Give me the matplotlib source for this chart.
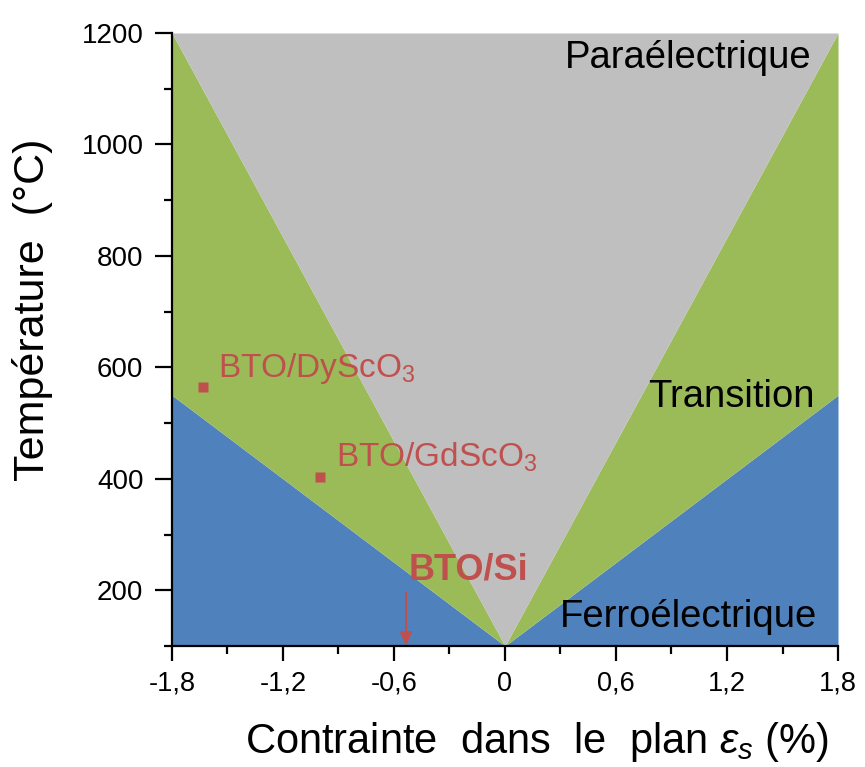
import numpy as np
import matplotlib.pyplot as plt
from matplotlib.ticker import FixedLocator, MultipleLocator

plt.rcParams['font.family'] = ['Liberation Sans', 'DejaVu Sans']
plt.rcParams['mathtext.fontset'] = 'custom'
plt.rcParams['mathtext.rm'] = 'Liberation Sans'
plt.rcParams['mathtext.it'] = 'Liberation Sans:italic'
plt.rcParams['mathtext.bf'] = 'Liberation Sans:bold'
plt.rcParams['mathtext.default'] = 'regular'

# phase boundaries (strain %, temperature C)
strain = [-1.8, 0.0, 1.8]
ferro_limit = [550, 100, 550]
para_limit = [1200, 100, 1200]
tMin = 100
tMax = 1200

# substrates
sub_names = ['BTO/DyScO$_3$', 'BTO/GdScO$_3$']
sub_strain = [-1.63, -1.0]
sub_temp = [565, 404]
si_strain = -0.535

xticks = [-1.8, -1.2, -0.6, 0, 0.6, 1.2, 1.8]
xlabels = ['-1,8', '-1,2', '-0,6', '0', '0,6', '1,2', '1,8']
yticks = [200, 400, 600, 800, 1000, 1200]

blue = '#4F81BD'
green = '#9BBB59'
grey = '#BFBFBF'
red = '#C0504D'

fig = plt.figure(figsize=(8.65, 7.67), dpi=100)
ax = fig.add_axes([0.1988, 0.1578, 0.770, 0.7992])

ax.fill_between(strain, tMin, ferro_limit, color=blue, lw=0)
ax.fill_between(strain, ferro_limit, para_limit, color=green, lw=0)
ax.fill_between(strain, para_limit, tMax, color=grey, lw=0)

ax.plot(sub_strain, sub_temp, 's', color=red, ms=6.5, mec='none')
ax.text(-1.551, 583, sub_names[0], color=red, fontsize=24, ha='left', va='baseline')
ax.text(-0.914, 421, sub_names[1], color=red, fontsize=24, ha='left', va='baseline')
ax.text(-0.195, 219, 'BTO/Si', color=red, fontsize=26, fontweight='bold', ha='center', va='baseline')
ax.annotate('', xy=(si_strain, tMin), xytext=(si_strain, 196),
            arrowprops=dict(arrowstyle='-|>,head_width=0.35,head_length=0.8', color=red, lw=1.5,
                            shrinkA=0, shrinkB=0))

ax.text(1.659, 1138, 'Paraélectrique', fontsize=27.5, ha='right', va='baseline')
ax.text(1.676, 529, 'Transition', fontsize=27.5, ha='right', va='baseline')
ax.text(1.686, 134, 'Ferroélectrique', fontsize=27.5, ha='right', va='baseline')

ax.set_xlim(-1.8, 1.8)
ax.set_ylim(tMin, tMax)
ax.xaxis.set_major_locator(FixedLocator(xticks))
ax.set_xticklabels(xlabels)
ax.xaxis.set_minor_locator(MultipleLocator(0.3))
ax.yaxis.set_major_locator(FixedLocator(yticks))
ax.yaxis.set_minor_locator(MultipleLocator(100))

for s in ['top', 'right']:
    ax.spines[s].set_visible(False)
for s in ['left', 'bottom']:
    ax.spines[s].set_linewidth(1.6)
ax.tick_params(which='major', direction='out', length=11, width=1.6, pad=6)
ax.tick_params(which='minor', direction='out', length=5.5, width=1.6)
ax.tick_params(axis='x', which='major', labelsize=19.5, pad=7)
ax.tick_params(axis='y', which='major', length=12.5, labelsize=20, pad=8)

fig.text(0.621, 0.033, r'Contrainte  dans  le  plan $\mathit{\varepsilon_s}$ (%)', fontsize=30, ha='center', va='center')
fig.text(0.038, 0.596, 'Température  (°C)', fontsize=31, rotation=90, ha='center', va='center')

fig.savefig('out.png', dpi=100)
